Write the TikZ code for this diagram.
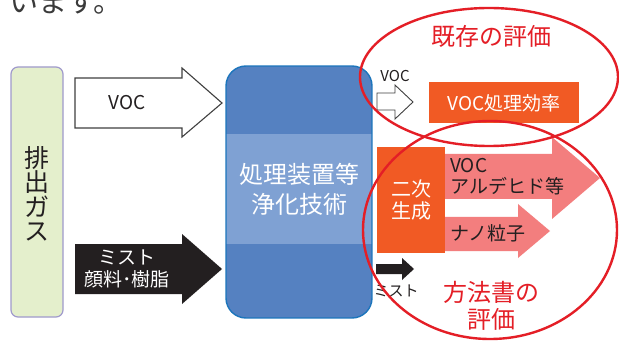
\documentclass[tikz,border=0pt]{standalone}
\usepackage{fontspec}
\setmainfont{Noto Sans CJK JP}
\definecolor{gfill}{HTML}{E4EFCC}
\definecolor{gline}{HTML}{A09ACC}
\definecolor{blueD}{HTML}{5581C1}
\definecolor{blueL}{HTML}{7FA1D3}
\definecolor{blueB}{HTML}{1C75BC}
\definecolor{orng}{HTML}{F15A24}
\definecolor{pink}{HTML}{F37E7E}
\definecolor{redl}{HTML}{E41E26}
\definecolor{blk}{HTML}{231F20}
\definecolor{tgray}{HTML}{3A3A3A}
\definecolor{agray}{HTML}{404040}
\newcommand{\fs}[2]{\fontsize{#1}{#2}\selectfont}
\tikzset{
  warrow/.style={fill=white, draw=agray, line width=1.1pt, line join=miter},
  barrow/.style={fill=blk},
  parrow/.style={fill=pink},
  redring/.style={draw=redl, line width=2.4pt},
  lbl/.style={inner sep=0pt, align=center},
}
\begin{document}
\begin{tikzpicture}[x=1pt,y=-1pt]
\useasboundingbox (0,0) rectangle (619,342);
\clip (0,0) rectangle (619,342);
\fill[white] (0,0) rectangle (619,342);

% top text
\node[anchor=base west, inner sep=0pt, text=tgray, font=\fs{29}{30}] (top) at (9,13) {います。};

% exhaust gas box
\draw[fill=gfill, draw=gline, line width=1.2pt, rounded corners=7pt] (11,67) rectangle (63,317);
\node[lbl, text=blk, font=\fs{25}{24.5}] (gas) at (37,194) {排\\出\\ガ\\ス};

% input arrows
\draw[warrow] (75,78) -- (182,78) -- (182,68) -- (222,103) -- (182,137) -- (182,128) -- (75,128) -- cycle;
\node[lbl, text=blk, font=\fs{19}{22}] (voc1) at (127,103) {VOC};
\fill[barrow] (75,244) -- (182,244) -- (182,234) -- (222,269) -- (182,304) -- (182,294) -- (75,294) -- cycle;
\node[lbl, text=white, font=\fs{19}{22.5}] (mist1) at (127,269) {ミスト\\顔料･樹脂};

% treatment box
\begin{scope}
\clip[rounded corners=20pt] (226,66) rectangle (372,318);
\fill[blueD] (226,66) rectangle (372,318);
\fill[blueL] (226,134) rectangle (372,244);
\end{scope}
\draw[blueB, line width=1.4pt, rounded corners=20pt] (226,66) rectangle (372,318);
\node[lbl, text=white, font=\fs{24}{30}] (tech) at (299,189) {処理装置等\\浄化技術};

% outputs
\node[lbl, text=blk, font=\fs{15}{16}] (voc2) at (395,76) {VOC};
\draw[warrow, line width=0.9pt] (377,93) -- (395,93) -- (395,85) -- (413,102) -- (395,119) -- (395,110) -- (377,110) -- cycle;
\fill[orng] (429,82) rectangle (579,123);
\node[lbl, text=white, font=\fs{19}{22}] (eff) at (504,103) {VOC処理効率};

\fill[orng] (377,147) rectangle (445,253);
\node[lbl, text=white, font=\fs{20}{22.5}] (sec) at (411,200) {二次\\生成};

\fill[parrow] (445,154) -- (552,154) -- (552,137) -- (600,178) -- (552,219) -- (552,199) -- (445,199) -- cycle;
\node[anchor=west, inner sep=0pt, align=left, text=blk, font=\fs{19}{21}] (ald) at (450,177) {VOC\\アルデヒド等};
\fill[parrow] (445,217) -- (518,217) -- (518,204) -- (550,231) -- (518,258) -- (518,251) -- (445,251) -- cycle;
\node[anchor=west, inner sep=0pt, text=blk, font=\fs{19}{21}] (nano) at (450,233) {ナノ粒子};

\fill[barrow] (376,264) -- (402,264) -- (402,258) -- (414,269) -- (402,280) -- (402,274) -- (376,274) -- cycle;
\node[lbl, text=blk, font=\fs{15}{16}] (mist2) at (396,291) {ミスト};

% red rings
\draw[redring] (489,77) ellipse [x radius=129, y radius=69];
\draw[redring] (490,230) ellipse [x radius=127, y radius=109];
\node[lbl, text=redl, font=\fs{24}{27}] (exist) at (491,36) {既存の評価};
\node[lbl, text=redl, font=\fs{24}{27}] (meth) at (491,306) {方法書の\\評価};
\end{tikzpicture}
\end{document}
